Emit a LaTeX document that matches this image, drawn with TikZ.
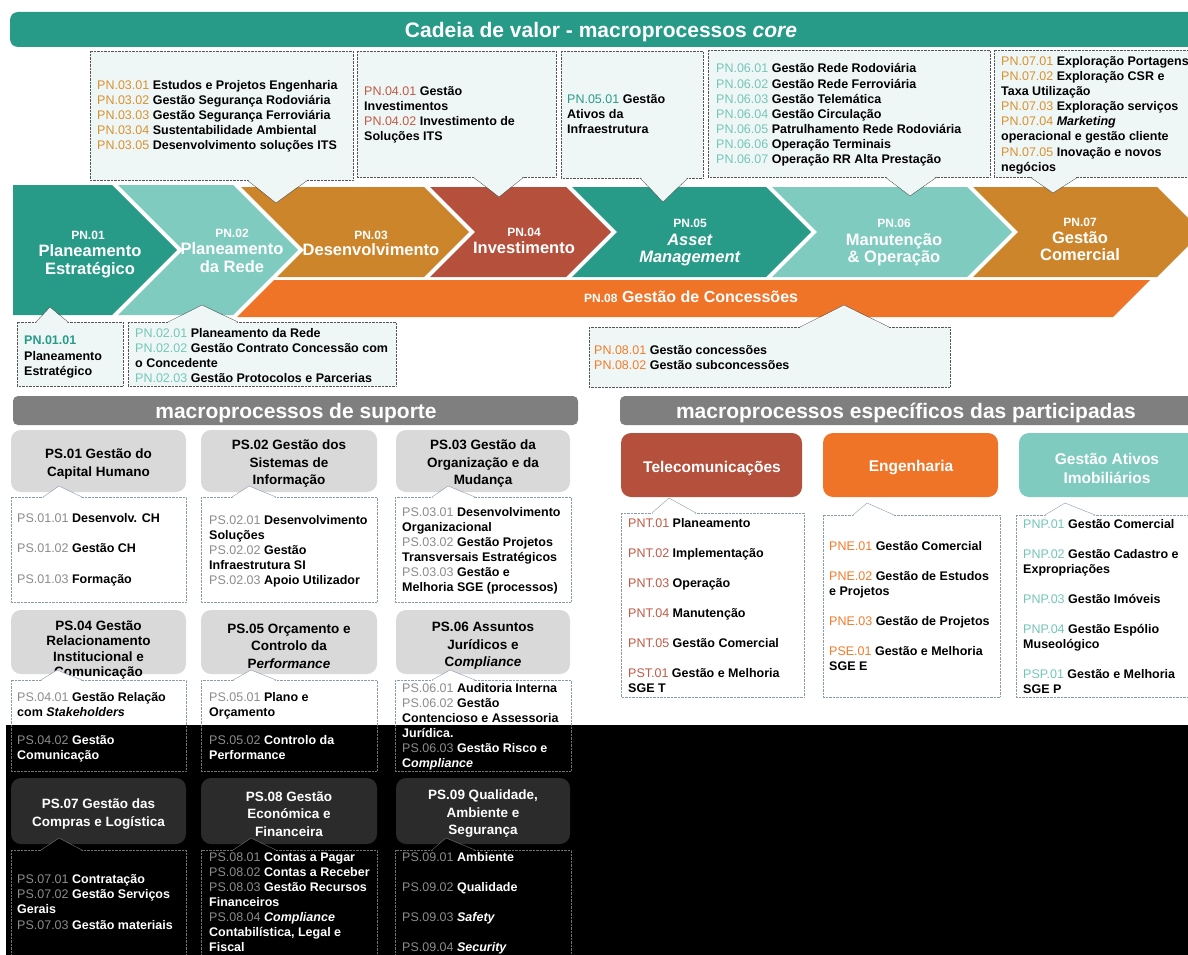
\documentclass[tikz,border=0pt]{standalone}
\usepackage{fontspec}
\setmainfont{Liberation Sans}
\setsansfont{Liberation Sans}
\definecolor{tealdark}{HTML}{289B88}
\definecolor{teallight}{HTML}{7FCBBF}
\definecolor{ochre}{HTML}{CD852C}
\definecolor{rust}{HTML}{B5503C}
\definecolor{orangeb}{HTML}{F07428}
\definecolor{bargray}{HTML}{7F7F7F}
\definecolor{hdrgray}{HTML}{D9D9D9}
\definecolor{hdrdark}{HTML}{2B2B2B}
\definecolor{callfill}{HTML}{EFF7F6}
\definecolor{callline}{HTML}{555555}
\definecolor{detline}{HTML}{8A9BB0}
\definecolor{darkline}{HTML}{707070}
\definecolor{codegray}{HTML}{8C8C8C}
\definecolor{codeochre}{HTML}{D9912F}
\definecolor{codeteal}{HTML}{74C6B9}
\definecolor{codedark}{HTML}{289B88}
\definecolor{coderust}{HTML}{BF5A45}
\definecolor{codeorange}{HTML}{F47B2A}
\newcommand{\cd}[2]{{\mdseries\color{#1}#2}}

\begin{document}
\begin{tikzpicture}[x=1pt, y=-1pt,
  % one line of text in a box
  ln/.style={anchor=mid west, inner sep=0pt, yshift=-2pt, font=\bfseries\fontsize{12.5}{15}\selectfont},
  lnw/.style={ln, text=white},
  % chevron labels
  chnum/.style={text=white, inner sep=0pt, anchor=mid, yshift=-2pt, font=\bfseries\fontsize{12}{14}\selectfont},
  chname/.style={text=white, inner sep=0pt, anchor=mid, yshift=-2pt, font=\bfseries\fontsize{16.5}{18}\selectfont},
  % boxes
  callbox/.style={draw=callline, densely dotted, fill=callfill},
  ptr/.style={draw=callline, thin},
  detbox/.style={draw=detline, densely dotted, fill=white},
  hdrbox/.style={fill=hdrgray, rounded corners=10pt},
  hdrtxt/.style={align=center, inner sep=0pt, yshift=-2pt, font=\bfseries\fontsize{13.5}{17.5}\selectfont},
  phdr/.style={align=center, inner sep=0pt, yshift=-2pt, text=white, font=\bfseries\fontsize{15.5}{19}\selectfont},
  bartxt/.style={text=white, inner sep=0pt, yshift=-2pt, font=\bfseries\fontsize{21}{24}\selectfont},
]
\useasboundingbox (0,0) rectangle (1188,955);
\clip (0,0) rectangle (1188,955);

% ── TITLE ─────────────────────────────────────────
\fill[tealdark, rounded corners=8pt] (10,12) rectangle (1215,47);
\node[bartxt] (title) at (601,30) {Cadeia de valor - macroprocessos \textit{core}};

% ── CHEVRONS ──────────────────────────────────────
\fill[tealdark] (13,185) -- (112,185) -- (177,250) -- (112,315) -- (13,315) -- cycle;
\fill[teallight] (118,185) -- (233,185) -- (298,250) -- (233,315) -- (118,315) -- (183,250) -- cycle;
\fill[ochre] (241,187) -- (424,187) -- (469,232) -- (424,277) -- (277,277) -- (304,250) -- cycle;
\fill[rust] (430,187) -- (566,187) -- (611,232) -- (566,277) -- (430,277) -- (475,232) -- cycle;
\fill[tealdark] (572,187) -- (766,187) -- (811,232) -- (766,277) -- (572,277) -- (617,232) -- cycle;
\fill[teallight] (772,187) -- (967,187) -- (1012,232) -- (967,277) -- (772,277) -- (817,232) -- cycle;
\fill[ochre] (973,187) -- (1157,187) -- (1202,232) -- (1157,277) -- (973,277) -- (1018,232) -- cycle;
\fill[orangeb] (274,280) -- (1150,280) -- (1113,317) -- (237,317) -- cycle;

\foreach \x/\y/\txt [count=\i] in {88/235/PN.01, 232/233/PN.02, 371/235/PN.03, 524/232/PN.04,
    690/223/PN.05, 894/223/PN.06, 1080/222/PN.07}
  \node[chnum] (cn\i) at (\x,\y) {\txt};
\foreach \x/\y/\txt [count=\i] in {90/252/Planeamento, 90/270/Estratégico, 232/250/Planeamento,
    232/268/da Rede, 371/251/Desenvolvimento, 524/249/Investimento, 690/241/\textit{Asset},
    690/258/\textit{Management}, 894/241/Manutenção, 894/258/\& Operação, 1080/239/Gestão,
    1080/256/Comercial}
  \node[chname] (cw\i) at (\x,\y) {\txt};
\node[anchor=mid west, inner sep=0pt, yshift=-2pt, text=white, font=\bfseries\fontsize{16}{18}\selectfont] (pn08)
  at (584,298) {{\fontsize{12}{14}\selectfont PN.08} Gestão de Concessões};

% ── CALLOUTS ABOVE ────────────────────────────────
\foreach \xa/\ya/\xb/\yb/\pa/\px/\py/\pb in {90/51/353/180/247/276/203/308,
    357/51/556/177/473/499/197/524, 561/51/703/178/640/663/202/688,
    708/50/990/177/885/910/196/937, 994/50/1210/177/1030/1053/193/1078} {
  \draw[callbox] (\xa,\ya) rectangle (\xb,\yb);
  \fill[callfill] (\pa,\yb-1) -- (\px,\py) -- (\pb,\yb-1) -- cycle;
  \draw[ptr] (\pa,\yb) -- (\px,\py) -- (\pb,\yb);
}

% ── CALLOUTS BELOW ────────────────────────────────
\foreach \xa/\ya/\xb/\yb/\pa/\px/\py/\pb in {17/322/123/386/36/50/307/68,
    128/322/396/386/168/202/305/238, 589/327/950/387/800/844/305/889} {
  \draw[callbox] (\xa,\ya) rectangle (\xb,\yb);
  \fill[callfill] (\pa,\ya+1) -- (\px,\py) -- (\pb,\ya+1) -- cycle;
  \draw[ptr] (\pa,\ya) -- (\px,\py) -- (\pb,\ya);
}

\foreach \y/\txt [count=\i] in {85/{\cd{codeochre}{PN.03.01} Estudos e Projetos Engenharia},
    100/{\cd{codeochre}{PN.03.02} Gestão Segurança Rodoviária},
    115/{\cd{codeochre}{PN.03.03} Gestão Segurança Ferroviária},
    130/{\cd{codeochre}{PN.03.04} Sustentabilidade Ambiental},
    145/{\cd{codeochre}{PN.03.05} Desenvolvimento soluções ITS}}
  \node[ln] (a3-\i) at (97,\y) {\txt};
\foreach \y/\txt [count=\i] in {91/{\cd{coderust}{PN.04.01} Gestão}, 106/Investimentos,
    121/{\cd{coderust}{PN.04.02} Investimento de}, 136/Soluções ITS}
  \node[ln] (a4-\i) at (364,\y) {\txt};
\foreach \y/\txt [count=\i] in {99/{\cd{codedark}{PN.05.01} Gestão}, 114/Ativos da, 129/Infraestrutura}
  \node[ln] (a5-\i) at (567,\y) {\txt};
\foreach \y/\txt [count=\i] in {68/{\cd{codeteal}{PN.06.01} Gestão Rede Rodoviária},
    84/{\cd{codeteal}{PN.06.02} Gestão Rede Ferroviária},
    99/{\cd{codeteal}{PN.06.03} Gestão Telemática},
    114/{\cd{codeteal}{PN.06.04} Gestão Circulação},
    129/{\cd{codeteal}{PN.06.05} Patrulhamento Rede Rodoviária},
    144/{\cd{codeteal}{PN.06.06} Operação Terminais},
    159/{\cd{codeteal}{PN.06.07} Operação RR Alta Prestação}}
  \node[ln] (a6-\i) at (716,\y) {\txt};
\foreach \y/\txt [count=\i] in {61/{\cd{codeochre}{PN.07.01} Exploração Portagens},
    76/{\cd{codeochre}{PN.07.02} Exploração CSR e}, 91/Taxa Utilização,
    106/{\cd{codeochre}{PN.07.03} Exploração serviços},
    121/{\cd{codeochre}{PN.07.04} \textit{Marketing}}, 136/operacional e gestão cliente,
    152/{\cd{codeochre}{PN.07.05} Inovação e novos}, 167/negócios}
  \node[ln] (a7-\i) at (1001,\y) {\txt};
\foreach \y/\txt [count=\i] in {340/{\textcolor{codedark}{PN.01.01}}, 356/Planeamento, 371/Estratégico}
  \node[ln] (a1-\i) at (24,\y) {\txt};
\foreach \y/\txt [count=\i] in {333/{\cd{codeteal}{PN.02.01} Planeamento da Rede},
    348/{\cd{codeteal}{PN.02.02} Gestão Contrato Concessão com}, 363/o Concedente,
    378/{\cd{codeteal}{PN.02.03} Gestão Protocolos e Parcerias}}
  \node[ln] (a2-\i) at (135,\y) {\txt};
\foreach \y/\txt [count=\i] in {350/{\cd{codeorange}{PN.08.01} Gestão concessões},
    365/{\cd{codeorange}{PN.08.02} Gestão subconcessões}}
  \node[ln] (a8-\i) at (594,\y) {\txt};

% ── SECTION BARS ──────────────────────────────────
\fill[bargray, rounded corners=5pt] (13,396) rectangle (578,425);
\node[bartxt] (supbar) at (296,411) {macroprocessos de suporte};
\fill[bargray, rounded corners=5pt] (620,396) rectangle (1210,425);
\node[bartxt] (partbar) at (906,411) {macroprocessos específicos das participadas};

% ── SUPPORT: HEADERS ROWS 1-2 ─────────────────────
\foreach \xa/\xb in {11/186, 201/377, 396/570}
  \foreach \ya/\yb in {430/492, 610/674}
    \fill[hdrbox] (\xa,\ya) rectangle (\xb,\yb);
\node[hdrtxt] (ps01) at (98.5,462) {PS.01 Gestão do\\Capital Humano};
\node[hdrtxt] (ps02) at (289,462) {PS.02 Gestão dos\\Sistemas de\\Informação};
\node[hdrtxt] (ps03) at (483,462) {PS.03 Gestão da\\Organização e da\\Mudança};
\node[hdrtxt, font=\bfseries\fontsize{13.5}{15.5}\selectfont] (ps04) at (98.5,648)
  {PS.04 Gestão\\Relacionamento\\Institucional e\\Comunicação};
\node[hdrtxt] (ps05) at (289,644) {PS.05 Orçamento e\\Controlo da\\P\textit{erformance}};
\node[hdrtxt] (ps06) at (483,644) {PS.06 Assuntos\\Jurídicos e\\C\textit{ompliance}};

% ── SUPPORT: DETAIL BOXES ROWS 1-2 ────────────────
\foreach \xa/\ya/\xb/\yb/\pa/\px/\py/\pb in {11/497/186/602/43/59/486/82,
    201/497/377/602/232/249/486/276, 395/497/571/602/432/448/486/475,
    11/680/186/771/41/57/670/82, 201/680/377/771/233/251/670/276,
    395/680/571/771/432/450/670/475,
    621/513/804/697/652/669/498/696, 823/515/1000/697/853/867/503/894,
    1016/515/1210/697/1045/1065/503/1095} {
  \draw[detbox] (\xa,\ya) rectangle (\xb,\yb);
  \fill[white] (\pa,\ya+1) -- (\px,\py) -- (\pb,\ya+1) -- cycle;
  \draw[detline, thin] (\pa,\ya) -- (\px,\py) -- (\pb,\ya);
}

\foreach \y/\txt [count=\i] in {518/{\cd{codegray}{PS.01.01} Desenvolv. CH},
    548/{\cd{codegray}{PS.01.02} Gestão CH}, 579/{\cd{codegray}{PS.01.03} Formação}}
  \node[ln] (s1-\i) at (17,\y) {\txt};
\foreach \y/\txt [count=\i] in {520/{\cd{codegray}{PS.02.01} Desenvolvimento}, 535/Soluções,
    550/{\cd{codegray}{PS.02.02} Gestão}, 565/Infraestrutura SI,
    580/{\cd{codegray}{PS.02.03} Apoio Utilizador}}
  \node[ln] (s2-\i) at (209,\y) {\txt};
\foreach \y/\txt [count=\i] in {512/{\cd{codegray}{PS.03.01} Desenvolvimento}, 527/Organizacional,
    542/{\cd{codegray}{PS.03.02} Gestão Projetos}, 557/Transversais Estratégicos,
    572/{\cd{codegray}{PS.03.03} Gestão e}, 587/{Melhoria SGE (processos)}}
  \node[ln] (s3-\i) at (402,\y) {\txt};
\foreach \y/\txt [count=\i] in {697/{\cd{codegray}{PS.04.01} Gestão Relação}, 712/{com \textit{Stakeholders}}}
  \node[ln] (s4-\i) at (17,\y) {\txt};
\foreach \y/\txt [count=\i] in {697/{\cd{codegray}{PS.05.01} Plano e}, 712/Orçamento}
  \node[ln] (s5-\i) at (209,\y) {\txt};
\foreach \y/\txt [count=\i] in {688/{\cd{codegray}{PS.06.01} Auditoria Interna},
    703/{\cd{codegray}{PS.06.02} Gestão}, 718/Contencioso e Assessoria}
  \node[ln] (s6-\i) at (402,\y) {\txt};

% ── PARTICIPADAS ──────────────────────────────────
\fill[rust, rounded corners=10pt] (621,433) rectangle (802,497);
\fill[orangeb, rounded corners=10pt] (823,433) rectangle (998,497);
\fill[teallight, rounded corners=10pt] (1019,433) rectangle (1215,497);
\node[phdr] (tel) at (712,466) {Telecomunicações};
\node[phdr] (eng) at (911,466) {Engenharia};
\node[phdr] (gai) at (1107,466) {Gestão Ativos\\Imobiliários};

\foreach \y/\txt [count=\i] in {523/{\cd{coderust}{PNT.01} Planeamento},
    553/{\cd{coderust}{PNT.02} Implementação}, 583/{\cd{coderust}{PNT.03} Operação},
    613/{\cd{coderust}{PNT.04} Manutenção}, 643/{\cd{coderust}{PNT.05} Gestão Comercial},
    673/{\cd{coderust}{PST.01} Gestão e Melhoria}, 688/SGE T}
  \node[ln] (pt-\i) at (628,\y) {\txt};
\foreach \y/\txt [count=\i] in {546/{\cd{codeorange}{PNE.01} Gestão Comercial},
    576/{\cd{codeorange}{PNE.02} Gestão de Estudos}, 591/e Projetos,
    621/{\cd{codeorange}{PNE.03} Gestão de Projetos},
    651/{\cd{codeorange}{PSE.01} Gestão e Melhoria}, 666/SGE E}
  \node[ln] (pe-\i) at (829,\y) {\txt};
\foreach \y/\txt [count=\i] in {524/{\cd{codeteal}{PNP.01} Gestão Comercial},
    554/{\cd{codeteal}{PNP.02} Gestão Cadastro e}, 569/Expropriações,
    599/{\cd{codeteal}{PNP.03} Gestão Imóveis}, 629/{\cd{codeteal}{PNP.04} Gestão Espólio},
    644/Museológico, 674/{\cd{codeteal}{PSP.01} Gestão e Melhoria}, 689/SGE P}
  \node[ln] (pp-\i) at (1023,\y) {\txt};

% ── DARK BAND ─────────────────────────────────────
\fill[black] (6,725) rectangle (1210,965);
\begin{scope}
  \clip (6,725) rectangle (1210,965);
  \foreach \xa/\xb in {11/186, 201/377, 395/571}
    \draw[darkline, densely dotted] (\xa,680) rectangle (\xb,771);
\end{scope}
\foreach \y/\txt [count=\i] in {740/{\cd{codegray}{PS.04.02} Gestão}, 755/Comunicação}
  \node[lnw] (s4b-\i) at (17,\y) {\txt};
\foreach \y/\txt [count=\i] in {740/{\cd{codegray}{PS.05.02} Controlo da}, 755/Performance}
  \node[lnw] (s5b-\i) at (209,\y) {\txt};
\foreach \y/\txt [count=\i] in {733/Jurídica., 748/{\cd{codegray}{PS.06.03} Gestão Risco e},
    763/{C\textit{ompliance}}}
  \node[lnw] (s6b-\i) at (402,\y) {\txt};

% row 3, inside the dark band
\foreach \xa/\xb in {11/186, 201/377, 396/570}
  \fill[hdrdark, rounded corners=10pt] (\xa,778) rectangle (\xb,844);
\node[hdrtxt, text=white] (ps07) at (98.5,812) {PS.07 Gestão das\\Compras e Logística};
\node[hdrtxt, text=white] (ps08) at (289,812) {PS.08 Gestão\\Económica e\\Financeira};
\node[hdrtxt, text=white] (ps09) at (483,812) {PS.09 Qualidade,\\Ambiente e\\Segurança};
\foreach \xa/\xb/\pa/\px/\pb in {11/186/41/59/82, 201/377/233/251/276, 395/571/432/446/475} {
  \draw[darkline, densely dotted] (\xa,850) rectangle (\xb,965);
  \fill[black] (\pa,851) -- (\px,838) -- (\pb,851) -- cycle;
  \draw[darkline, thin] (\pa,850) -- (\px,838) -- (\pb,850);
}
\foreach \y/\txt [count=\i] in {879/{\cd{codegray}{PS.07.01} Contratação},
    894/{\cd{codegray}{PS.07.02} Gestão Serviços}, 909/Gerais,
    925/{\cd{codegray}{PS.07.03} Gestão materiais}}
  \node[lnw] (s7-\i) at (17,\y) {\txt};
\foreach \y/\txt [count=\i] in {857/{\cd{codegray}{PS.08.01} Contas a Pagar},
    872/{\cd{codegray}{PS.08.02} Contas a Receber}, 887/{\cd{codegray}{PS.08.03} Gestão Recursos},
    902/Financeiros, 917/{\cd{codegray}{PS.08.04} \textit{Compliance}},
    932/{Contabilística, Legal e}, 947/Fiscal}
  \node[lnw] (s8-\i) at (209,\y) {\txt};
\foreach \y/\txt [count=\i] in {857/{\cd{codegray}{PS.09.01} Ambiente},
    887/{\cd{codegray}{PS.09.02} Qualidade}, 917/{\cd{codegray}{PS.09.03} \textit{Safety}},
    947/{\cd{codegray}{PS.09.04} \textit{Security}}}
  \node[lnw] (s9-\i) at (402,\y) {\txt};

\end{tikzpicture}
\end{document}
